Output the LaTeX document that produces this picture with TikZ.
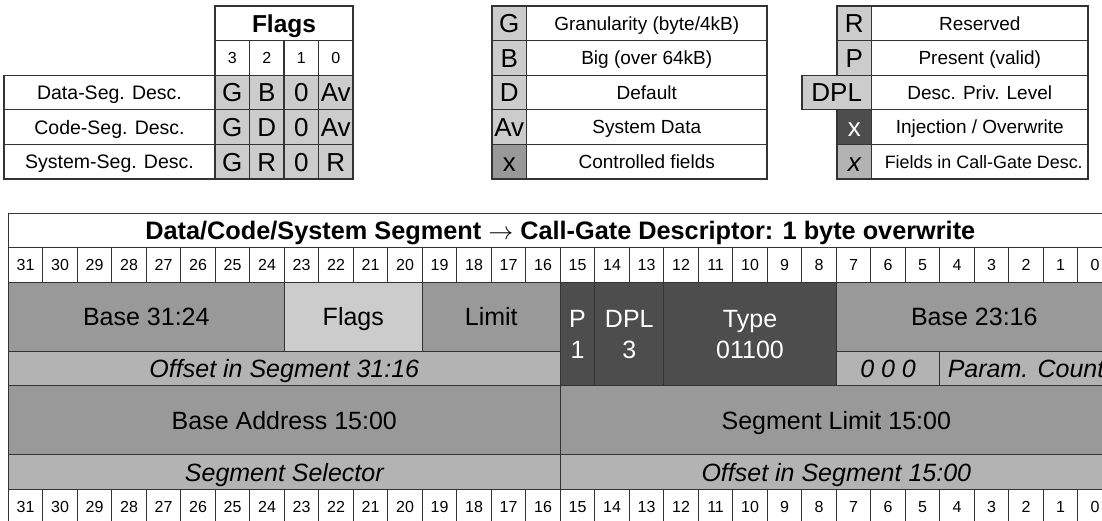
\documentclass[tikz,border=0pt]{standalone}
\usepackage{fontspec}
\setmainfont{Liberation Sans}
\definecolor{lg}{HTML}{CCCCCC}
\definecolor{mg}{HTML}{999999}
\definecolor{ig}{HTML}{B3B3B3}
\definecolor{dg}{HTML}{4D4D4D}
\definecolor{ln}{HTML}{333333}
\tikzset{
  cellbox/.style={draw=ln, line width=1.2pt, inner sep=0pt, outer sep=0pt, anchor=center, align=center, text=black},
  titlef/.style={font=\fontsize{25.3}{30}\selectfont\bfseries, text height=18.2pt, text depth=0pt},
  bigf/.style={font=\fontsize{25}{30}\selectfont, text height=17.9pt, text depth=0pt},
  bigit/.style={font=\fontsize{25}{30}\selectfont\itshape, text height=17.9pt, text depth=0pt},
  twoline/.style={font=\fontsize{25}{31}\selectfont, text=white, fill=dg},
  numf/.style={font=\fontsize{16}{19}\selectfont, text height=11.5pt, text depth=0pt},
  labf/.style={font=\fontsize{19.5}{23}\selectfont, text height=14pt, text depth=0pt},
  legf/.style={font=\fontsize{19}{23}\selectfont, text height=13.6pt, text depth=0pt},
  letf/.style={font=\fontsize{26}{31}\selectfont, text height=18.6pt, text depth=0pt},
  lgc/.style={fill=lg}, mgc/.style={fill=mg}, igc/.style={fill=ig}, wc/.style={fill=white},
}
\newcommand\mkcell[7]{%
  \node[cellbox,#6,minimum width={#4-#2},minimum height={#5-#3}] (#1) at ({(#2+#4)/2},{(#3+#5)/2}) {#7};}
\begin{document}
\begin{tikzpicture}[x=1pt,y=-1pt]
\useasboundingbox (0,0) rectangle (1102,520);
\fill[white] (0,0) rectangle (1102,520);
\clip (0,0) rectangle (1102,520);
% ---------- Flags table ----------
\mkcell{fhead}{215}{6}{353}{40.6}{wc,titlef,font=\fontsize{24.5}{29}\selectfont\bfseries}{Flags}
\mkcell{fb3}{215}{40.6}{249.5}{75.2}{wc,numf}{3}
\mkcell{fb2}{249.5}{40.6}{284}{75.2}{wc,numf}{2}
\mkcell{fb1}{284}{40.6}{318.5}{75.2}{wc,numf}{1}
\mkcell{fb0}{318.5}{40.6}{353}{75.2}{wc,numf}{0}
\mkcell{fl1}{4}{75.2}{215}{109.8}{wc,labf}{Data-Seg. Desc.}
\mkcell{fl2}{4}{109.8}{215}{144.4}{wc,labf}{Code-Seg. Desc.}
\mkcell{fl3}{4}{144.4}{215}{179}{wc,labf}{System-Seg. Desc.}
\mkcell{f13}{215}{75.2}{249.5}{109.8}{lgc,letf}{G}
\mkcell{f12}{249.5}{75.2}{284}{109.8}{lgc,letf}{B}
\mkcell{f11}{284}{75.2}{318.5}{109.8}{lgc,letf}{0}
\mkcell{f10}{318.5}{75.2}{353}{109.8}{lgc,letf}{Av}
\mkcell{f23}{215}{109.8}{249.5}{144.4}{lgc,letf}{G}
\mkcell{f22}{249.5}{109.8}{284}{144.4}{lgc,letf}{D}
\mkcell{f21}{284}{109.8}{318.5}{144.4}{lgc,letf}{0}
\mkcell{f20}{318.5}{109.8}{353}{144.4}{lgc,letf}{Av}
\mkcell{f33}{215}{144.4}{249.5}{179}{lgc,letf}{G}
\mkcell{f32}{249.5}{144.4}{284}{179}{lgc,letf}{R}
\mkcell{f31}{284}{144.4}{318.5}{179}{lgc,letf}{0}
\mkcell{f30}{318.5}{144.4}{353}{179}{lgc,letf}{R}
% ---------- Middle legend ----------
\mkcell{mk1}{492}{6}{526.5}{40.6}{lgc,letf}{G}
\mkcell{mt1}{526.5}{6}{767}{40.6}{wc,legf}{Granularity (byte/4kB)}
\mkcell{mk2}{492}{40.6}{526.5}{75.2}{lgc,letf}{B}
\mkcell{mt2}{526.5}{40.6}{767}{75.2}{wc,legf}{Big (over 64kB)}
\mkcell{mk3}{492}{75.2}{526.5}{109.8}{lgc,letf}{D}
\mkcell{mt3}{526.5}{75.2}{767}{109.8}{wc,legf}{Default}
\mkcell{mk4}{492}{109.8}{526.5}{144.4}{lgc,letf}{Av}
\mkcell{mt4}{526.5}{109.8}{767}{144.4}{wc,legf}{System Data}
\mkcell{mk5}{492}{144.4}{526.5}{179}{mgc,letf}{x}
\mkcell{mt5}{526.5}{144.4}{767}{179}{wc,legf}{Controlled fields}
% ---------- Right legend ----------
\mkcell{rk1}{837}{6}{871.5}{40.6}{lgc,letf}{R}
\mkcell{rt1}{871.5}{6}{1088}{40.6}{wc,legf}{Reserved}
\mkcell{rk2}{837}{40.6}{871.5}{75.2}{lgc,letf}{P}
\mkcell{rt2}{871.5}{40.6}{1088}{75.2}{wc,legf}{Present (valid)}
\mkcell{rk3}{802}{75.2}{871.5}{109.8}{lgc,letf}{DPL}
\mkcell{rt3}{871.5}{75.2}{1088}{109.8}{wc,legf}{Desc. Priv. Level}
\mkcell{rk4}{837}{109.8}{871.5}{144.4}{fill=dg,letf,text=white}{x}
\mkcell{rt4}{871.5}{109.8}{1088}{144.4}{wc,legf}{Injection / Overwrite}
\mkcell{rk5}{837}{144.4}{871.5}{179}{igc,letf,font=\fontsize{26}{31}\selectfont\itshape}{x}
\mkcell{rt5}{871.5}{144.4}{1088}{179}{wc,legf,font=\fontsize{17.9}{22}\selectfont}{\hspace*{8pt}Fields in Call-Gate Desc.}
% ---------- Big table ----------
\mkcell{title}{8.3}{213.3}{1112.3}{247.8}{wc,titlef}{Data/Code/System Segment $\rightarrow$ Call-Gate Descriptor: 1 byte overwrite}
\foreach \i in {0,...,31}{
  \pgfmathsetmacro\xa{8.3+34.5*\i}
  \pgfmathsetmacro\xb{8.3+34.5*(\i+1)}
  \pgfmathtruncatemacro\n{31-\i}
  \mkcell{t\i}{\xa}{247.8}{\xb}{282.3}{wc,numf}{\n}
  \mkcell{b\i}{\xa}{489.3}{\xb}{523.8}{wc,numf}{\n}
}
\mkcell{base3124}{8.3}{282.3}{284.3}{351.3}{mgc,bigf}{Base 31:24}
\mkcell{flags}{284.3}{282.3}{422.3}{351.3}{lgc,bigf}{Flags}
\mkcell{limit}{422.3}{282.3}{560.3}{351.3}{mgc,bigf}{Limit}
\mkcell{pbit}{560.3}{282.3}{594.8}{385.8}{twoline}{P\\1}
\mkcell{dpl}{594.8}{282.3}{663.8}{385.8}{twoline}{DPL\\3}
\mkcell{type}{663.8}{282.3}{836.3}{385.8}{twoline}{Type\\01100}
\mkcell{base2316}{836.3}{282.3}{1112.3}{351.3}{mgc,bigf}{Base 23:16}
\mkcell{off3116}{8.3}{351.3}{560.3}{385.8}{igc,bigit}{Offset in Segment 31:16}
\mkcell{zeros}{836.3}{351.3}{939.8}{385.8}{igc,bigit}{0 0 0}
\mkcell{pcount}{939.8}{351.3}{1112.3}{385.8}{igc,bigit}{Param. Count}
\mkcell{baseaddr}{8.3}{385.8}{560.3}{454.8}{mgc,bigf}{Base Address 15:00}
\mkcell{seglim}{560.3}{385.8}{1112.3}{454.8}{mgc,bigf}{Segment Limit 15:00}
\mkcell{segsel}{8.3}{454.8}{560.3}{489.3}{igc,bigit}{Segment Selector}
\mkcell{off1500}{560.3}{454.8}{1112.3}{489.3}{igc,bigit}{Offset in Segment 15:00}
\end{tikzpicture}
\end{document}
